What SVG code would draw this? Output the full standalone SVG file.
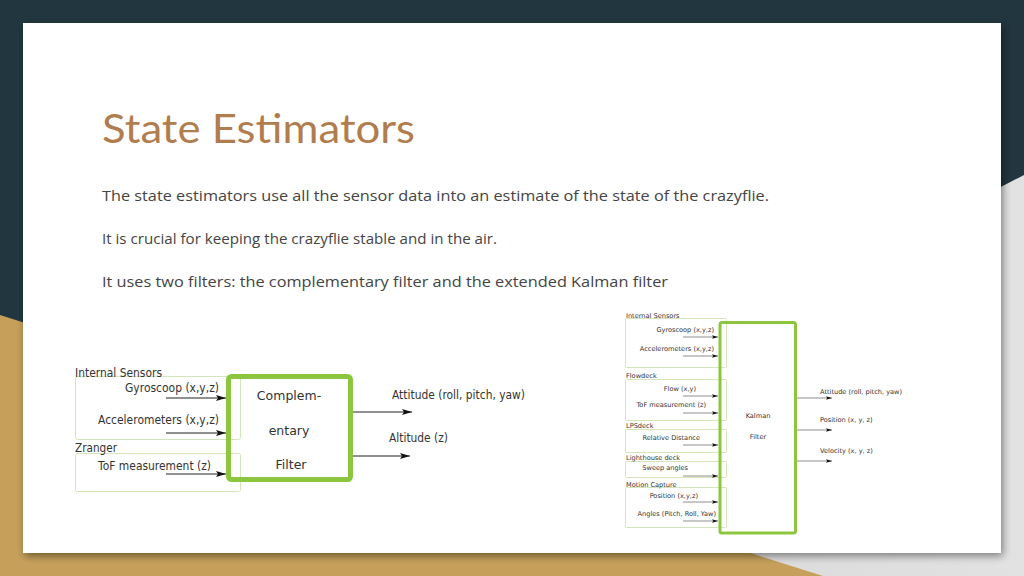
<svg xmlns="http://www.w3.org/2000/svg" width="1024" height="576" viewBox="0 0 1024 576">
<style>
.title{font-family:Lato,"Open Sans",sans-serif;font-size:41px;fill:#b27d4e}
.body{font-family:"Open Sans","Liberation Sans",sans-serif;font-size:15px;fill:#444}
.d{font-family:"DejaVu Sans",sans-serif;fill:#333}
.big{font-size:11.5px}
.mid{font-size:12.5px}
.sm{font-size:6.6px}
.sbox{fill:none;stroke:#d5e5bb;stroke-width:1}
.gbox{fill:none;stroke:#8cc63f}
.arr{stroke:#222;stroke-width:1;fill:none}
.arrs{stroke:#444;stroke-width:0.6;fill:none}
</style>
<defs>
<marker id="ah" viewBox="0 0 10 6" refX="10" refY="3" markerWidth="10" markerHeight="6" markerUnits="userSpaceOnUse" orient="auto"><path d="M0,0 L10,3 L0,6 L2,3 Z" fill="#111"/></marker>
<marker id="ahs" viewBox="0 0 10 6" refX="10" refY="3" markerWidth="6" markerHeight="3.6" markerUnits="userSpaceOnUse" orient="auto"><path d="M0,0 L10,3 L0,6 L2,3 Z" fill="#111"/></marker>
<filter id="sh" x="-5%" y="-5%" width="110%" height="115%"><feGaussianBlur in="SourceAlpha" stdDeviation="4"/><feOffset dx="2" dy="3"/><feComponentTransfer><feFuncA type="linear" slope="0.45"/></feComponentTransfer><feMerge><feMergeNode/><feMergeNode in="SourceGraphic"/></feMerge></filter>
<linearGradient id="gr" x1="0" y1="0" x2="1" y2="0"><stop offset="0" stop-color="#cfcfcf"/><stop offset="1" stop-color="#e2e2e2"/></linearGradient>
</defs>
<g id="background">
<rect width="1024" height="576" fill="#22363f"/>
<polygon points="1024,175 253,576 1024,576" fill="url(#gr)"/>
<polygon points="0,315 823,576 0,576" fill="#c6a05b"/>
<rect x="23" y="23" width="978" height="530" fill="#fff" filter="url(#sh)"/>
</g>
<g id="text">
<text class="title" x="102" y="143" textLength="313" lengthAdjust="spacingAndGlyphs">State Estimators</text>
<text class="body" x="102" y="201" textLength="667" lengthAdjust="spacingAndGlyphs">The state estimators use all the sensor data into an estimate of the state of the crazyflie.</text>
<text class="body" x="102" y="244" textLength="395" lengthAdjust="spacingAndGlyphs">It is crucial for keeping the crazyflie stable and in the air.</text>
<text class="body" x="102" y="287" textLength="566" lengthAdjust="spacingAndGlyphs">It uses two filters: the complementary filter and the extended Kalman filter</text>
</g>
<g id="complementary-diagram">
<g id="internal-sensors">
<rect class="sbox" x="75.5" y="376.5" width="165" height="63" rx="2"/>
<text class="d big" x="75" y="377" textLength="87" lengthAdjust="spacingAndGlyphs">Internal Sensors</text>
<text class="d big" x="125" y="392" textLength="94" lengthAdjust="spacingAndGlyphs">Gyroscoop (x,y,z)</text>
<text class="d big" x="98" y="424" textLength="121" lengthAdjust="spacingAndGlyphs">Accelerometers (x,y,z)</text>
</g>
<g id="zranger">
<rect class="sbox" x="75.5" y="453.5" width="165" height="38" rx="2"/>
<text class="d big" x="75" y="452" textLength="42" lengthAdjust="spacingAndGlyphs">Zranger</text>
<text class="d big" x="98" y="470" textLength="113" lengthAdjust="spacingAndGlyphs">ToF measurement (z)</text>
</g>
<g id="complementary-filter">
<rect class="gbox" x="228.5" y="376.5" width="122" height="103" rx="3" stroke-width="5"/>
<text class="d mid" x="289" y="400" text-anchor="middle">Complem-</text>
<text class="d mid" x="289" y="435" text-anchor="middle">entary</text>
<text class="d mid" x="291" y="469" text-anchor="middle">Filter</text>
</g>
<text class="d big" x="392" y="399" textLength="133" lengthAdjust="spacingAndGlyphs">Attitude (roll, pitch, yaw)</text>
<text class="d big" x="389" y="442" textLength="59" lengthAdjust="spacingAndGlyphs">Altitude (z)</text>
</g>
<g id="kalman-diagram">
<g id="k-internal"><rect class="sbox" x="625.5" y="318.5" width="101" height="49" rx="1"/>
<text class="d sm" x="626" y="318">Internal Sensors</text>
<text class="d sm" x="714" y="332" text-anchor="end">Gyroscoop (x,y,z)</text>
<text class="d sm" x="714" y="351" text-anchor="end">Accelerometers (x,y,z)</text></g>
<g id="k-flowdeck"><rect class="sbox" x="625.5" y="379.5" width="101" height="41" rx="1"/>
<text class="d sm" x="626" y="378">Flowdeck</text>
<text class="d sm" x="696" y="391" text-anchor="end">Flow (x,y)</text>
<text class="d sm" x="706" y="407" text-anchor="end">ToF measurement (z)</text></g>
<g id="k-lpsdeck"><rect class="sbox" x="625.5" y="429.5" width="101" height="23" rx="1"/>
<text class="d sm" x="626" y="428">LPSdeck</text>
<text class="d sm" x="700" y="440" text-anchor="end">Relative Distance</text></g>
<g id="k-lighthouse"><rect class="sbox" x="625.5" y="461.5" width="101" height="16" rx="1"/>
<text class="d sm" x="626" y="460">Lighthouse deck</text>
<text class="d sm" x="688" y="470" text-anchor="end">Sweep angles</text></g>
<g id="k-motion"><rect class="sbox" x="625.5" y="487.5" width="101" height="40" rx="1"/>
<text class="d sm" x="626" y="487">Motion Capture</text>
<text class="d sm" x="698" y="498" text-anchor="end">Position (x,y,z)</text>
<text class="d sm" x="716" y="516" text-anchor="end">Angles (Pitch, Roll, Yaw)</text></g>
<g id="kalman-filter">
<rect class="gbox" x="720" y="322.5" width="75.5" height="210.5" rx="2" stroke-width="3"/>
<text class="d sm" x="758" y="418" text-anchor="middle">Kalman</text>
<text class="d sm" x="758" y="439" text-anchor="middle">Filter</text>
</g>
<text class="d sm" x="820" y="394">Attitude (roll, pitch, yaw)</text>
<text class="d sm" x="820" y="422">Position (x, y, z)</text>
<text class="d sm" x="820" y="453">Velocity (x, y, z)</text>
</g>
<g id="connectors">
<line class="arr" x1="166" y1="398" x2="226" y2="398" marker-end="url(#ah)"/>
<line class="arr" x1="166" y1="433" x2="226" y2="433" marker-end="url(#ah)"/>
<line class="arr" x1="166" y1="474" x2="226" y2="474" marker-end="url(#ah)"/>
<line class="arr" x1="353" y1="412" x2="412" y2="412" marker-end="url(#ah)"/>
<line class="arr" x1="353" y1="456" x2="410" y2="456" marker-end="url(#ah)"/>
<line class="arrs" x1="683" y1="337" x2="718" y2="337" marker-end="url(#ahs)"/>
<line class="arrs" x1="683" y1="356" x2="718" y2="356" marker-end="url(#ahs)"/>
<line class="arrs" x1="683" y1="396" x2="718" y2="396" marker-end="url(#ahs)"/>
<line class="arrs" x1="683" y1="413" x2="718" y2="413" marker-end="url(#ahs)"/>
<line class="arrs" x1="683" y1="445" x2="718" y2="445" marker-end="url(#ahs)"/>
<line class="arrs" x1="683" y1="476" x2="718" y2="476" marker-end="url(#ahs)"/>
<line class="arrs" x1="683" y1="502" x2="718" y2="502" marker-end="url(#ahs)"/>
<line class="arrs" x1="683" y1="521" x2="718" y2="521" marker-end="url(#ahs)"/>
<line class="arrs" x1="797" y1="398" x2="832" y2="398" marker-end="url(#ahs)"/>
<line class="arrs" x1="797" y1="430" x2="832" y2="430" marker-end="url(#ahs)"/>
<line class="arrs" x1="797" y1="461" x2="832" y2="461" marker-end="url(#ahs)"/>
</g>
</svg>
